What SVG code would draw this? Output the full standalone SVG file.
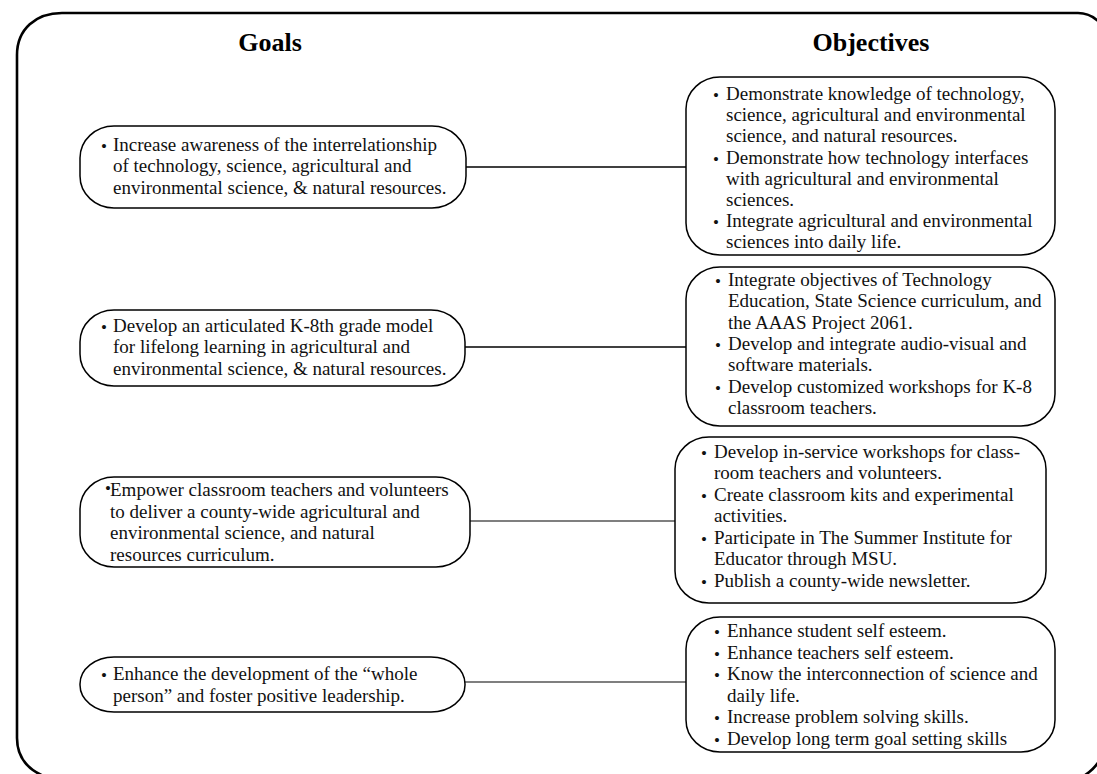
<svg xmlns="http://www.w3.org/2000/svg" width="1097" height="774" viewBox="0 0 1097 774">
<style>
.frame{fill:none;stroke:#000;stroke-width:2.6}
.box{fill:#fff;stroke:#000;stroke-width:1.5}
.conn{stroke:#000;stroke-width:1.4;fill:none}
.t{font-family:"Liberation Serif","Times New Roman",serif;font-size:19px;fill:#111}
.b{font-family:"Liberation Serif","Times New Roman",serif;font-size:17px;fill:#111}
.h{font-family:"Liberation Serif","Times New Roman",serif;font-size:26px;font-weight:bold;fill:#000;text-anchor:middle}
</style>
<rect width="1097" height="774" fill="#fff"/>
<path class="frame" d="M17 55 C17 29 36 13 62 13 L1078 13 C1091 13 1099 20 1106 30 L1106 740 C1104 758 1096 769 1082 777 L46 777 C28 770 17 758 17 738 Z"/>
<text class="h" x="270" y="51">Goals</text>
<text class="h" x="871" y="51">Objectives</text>

<g id="connectors">
<line class="conn" x1="466" y1="167" x2="686" y2="167"/>
<line class="conn" x1="465" y1="347" x2="686" y2="347"/>
<line class="conn" x1="470" y1="521" x2="675" y2="521" style="stroke-width:1.1"/>
<line class="conn" x1="465" y1="682" x2="686" y2="682" style="stroke-width:1.1"/>
</g>

<g id="goal1">
<rect class="box" x="80" y="126" width="386" height="82" rx="34" ry="32"/>
<text class="b" x="101" y="152">•</text>
<text class="t" x="113" y="151">Increase awareness of the interrelationship</text>
<text class="t" x="113" y="172.3">of technology, science, agricultural and</text>
<text class="t" x="113" y="193.6">environmental science, &amp; natural resources.</text>
</g>

<g id="goal2">
<rect class="box" x="80" y="310" width="385" height="76" rx="34" ry="32"/>
<text class="b" x="101" y="333">•</text>
<text class="t" x="113" y="332">Develop an articulated K-8th grade model</text>
<text class="t" x="113" y="353.3">for lifelong learning in agricultural and</text>
<text class="t" x="113" y="374.6">environmental science, &amp; natural resources.</text>
</g>

<g id="goal3">
<rect class="box" x="80" y="477" width="390" height="90" rx="34" ry="32"/>
<text class="b" x="105" y="494">•</text>
<text class="t" x="110" y="496">Empower classroom teachers and volunteers</text>
<text class="t" x="110" y="517.5">to deliver a county-wide agricultural and</text>
<text class="t" x="110" y="539">environmental science, and natural</text>
<text class="t" x="110" y="560.5">resources curriculum.</text>
</g>

<g id="goal4">
<rect class="box" x="80" y="657" width="385" height="55" rx="34" ry="27"/>
<text class="b" x="101" y="681">•</text>
<text class="t" x="113" y="680">Enhance the development of the “whole</text>
<text class="t" x="113" y="701.5">person” and foster positive leadership.</text>
</g>

<g id="objective1">
<rect class="box" x="686" y="77" width="369" height="178" rx="34" ry="32"/>
<text class="b" x="713" y="101">•</text>
<text class="t" x="726" y="100">Demonstrate knowledge of technology,</text>
<text class="t" x="726" y="121.2">science, agricultural and environmental</text>
<text class="t" x="726" y="142.4">science, and natural resources.</text>
<text class="b" x="713" y="164.6">•</text>
<text class="t" x="726" y="163.6">Demonstrate how technology interfaces</text>
<text class="t" x="726" y="184.8">with agricultural and environmental</text>
<text class="t" x="726" y="206">sciences.</text>
<text class="b" x="713" y="228.2">•</text>
<text class="t" x="726" y="227.2">Integrate agricultural and environmental</text>
<text class="t" x="726" y="248.4">sciences into daily life.</text>
</g>

<g id="objective2">
<rect class="box" x="686" y="267" width="369" height="159" rx="34" ry="32"/>
<text class="b" x="715" y="287">•</text>
<text class="t" x="728" y="286">Integrate objectives of Technology</text>
<text class="t" x="728" y="307.3">Education, State Science curriculum, and</text>
<text class="t" x="728" y="328.6">the AAAS Project 2061.</text>
<text class="b" x="715" y="350.9">•</text>
<text class="t" x="728" y="349.9">Develop and integrate audio-visual and</text>
<text class="t" x="728" y="371.2">software materials.</text>
<text class="b" x="715" y="393.5">•</text>
<text class="t" x="728" y="392.5">Develop customized workshops for K-8</text>
<text class="t" x="728" y="413.8">classroom teachers.</text>
</g>

<g id="objective3">
<rect class="box" x="675" y="437" width="371" height="166" rx="34" ry="32"/>
<text class="b" x="701" y="458.5">•</text>
<text class="t" x="714" y="457.5">Develop in-service workshops for class-</text>
<text class="t" x="714" y="479">room teachers and volunteers.</text>
<text class="b" x="701" y="501.5">•</text>
<text class="t" x="714" y="500.5">Create classroom kits and experimental</text>
<text class="t" x="714" y="522">activities.</text>
<text class="b" x="701" y="544.5">•</text>
<text class="t" x="714" y="543.5">Participate in The Summer Institute for</text>
<text class="t" x="714" y="565">Educator through MSU.</text>
<text class="b" x="701" y="587.5">•</text>
<text class="t" x="714" y="586.5">Publish a county-wide newsletter.</text>
</g>

<g id="objective4">
<rect class="box" x="686" y="617" width="369" height="135" rx="34" ry="32"/>
<text class="b" x="714" y="638">•</text>
<text class="t" x="727" y="637">Enhance student self esteem.</text>
<text class="b" x="714" y="659.5">•</text>
<text class="t" x="727" y="658.5">Enhance teachers self esteem.</text>
<text class="b" x="714" y="681">•</text>
<text class="t" x="727" y="680">Know the interconnection of science and</text>
<text class="t" x="727" y="701.5">daily life.</text>
<text class="b" x="714" y="724">•</text>
<text class="t" x="727" y="723">Increase problem solving skills.</text>
<text class="b" x="714" y="745.5">•</text>
<text class="t" x="727" y="744.5">Develop long term goal setting skills</text>
</g>
</svg>
